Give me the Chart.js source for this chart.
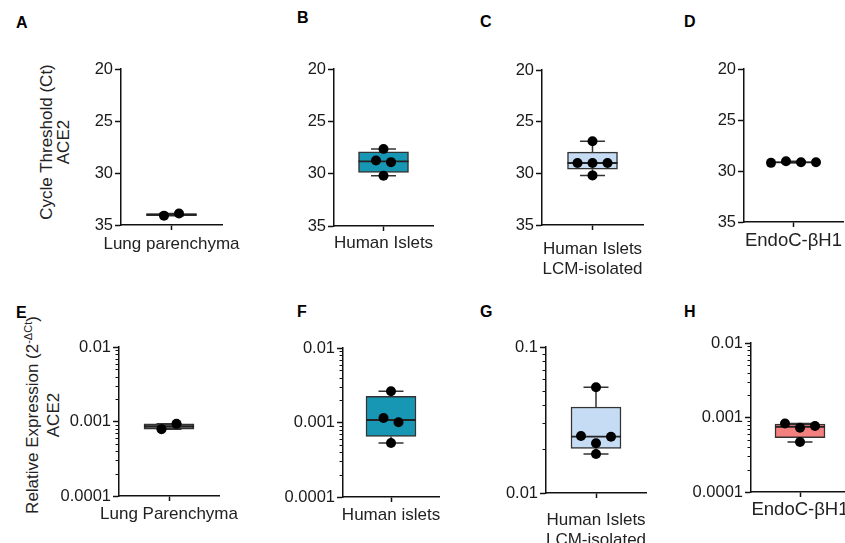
<!DOCTYPE html>
<html><head><meta charset="utf-8">
<script src="https://cdn.jsdelivr.net/npm/chart.js@4.4.1/dist/chart.umd.min.js"></script>
<style>
html,body{margin:0;padding:0;background:#fff;overflow:hidden;width:845px;height:543px;}
body{position:relative;font-family:"Liberation Sans",Arial,sans-serif;color:#1a1a1a;}
.panel{position:absolute;}
.letter{position:absolute;font-weight:bold;font-size:16px;line-height:16px;color:#000;}
.ytitle{position:absolute;font-size:17px;text-align:center;transform:rotate(-90deg);white-space:nowrap;color:#222;}
.ytitle sup{font-size:11px;vertical-align:6px;line-height:0;}
</style></head><body>
<div class="letter" style="left:16px;top:15px">A</div>
<div class="letter" style="left:297px;top:10px">B</div>
<div class="letter" style="left:480px;top:14px">C</div>
<div class="letter" style="left:684px;top:14px">D</div>
<div class="letter" style="left:16px;top:305px">E</div>
<div class="letter" style="left:297px;top:304px">F</div>
<div class="letter" style="left:480px;top:304px">G</div>
<div class="letter" style="left:684px;top:304px">H</div>
<div class="ytitle" style="left:-55px;top:125px;width:220px;height:34px;line-height:17px">Cycle Threshold (Ct)<br>ACE2</div>
<div class="ytitle" style="left:-77px;top:394px;width:240px;height:42px;line-height:21px">Relative Expression (2<sup>-&Delta;Ct</sup>)<br>ACE2</div>
<script>
// ---------- data ----------
const ctTicks = [20, 25, 30, 35];
const logTicksLow = [0.0001, 0.001, 0.01];
const logTicksG = [0.01, 0.1];

const categoriesTop = ['Lung parenchyma', 'Human Islets', ['Human Islets', 'LCM-isolated'], 'EndoC-\u03B2H1'];
const categoriesBottom = ['Lung Parenchyma', 'Human islets', ['Human Islets', 'LCM-isolated'], 'EndoC-\u03B2H1'];

const ctLung = [34.1, 33.9];
const ctIslets = [27.65, 28.75, 28.9, 30.2];
const ctLCM = [26.9, 29.0, 29.0, 29.0, 30.2];
const ctEndoC = [29.2, 29.15, 29.05, 29.15];

const relLung = [0.00079, 0.00093];
const relIslets = [0.00262, 0.00115, 0.00101, 0.00053];
const relLCM = [0.053, 0.0246, 0.0243, 0.0219, 0.0185];
const relEndoC = [0.00083, 0.00077, 0.00073, 0.00047];

// ---------- helpers ----------
function prismQuantile(s, p) {
  const n = s.length, pos = p * (n + 1);
  if (pos <= 1) return s[0];
  if (pos >= n) return s[n - 1];
  const lo = Math.floor(pos), f = pos - lo;
  return s[lo - 1] + f * (s[lo] - s[lo - 1]);
}
function boxStats(vals) {
  const s = [...vals].sort((a, b) => a - b);
  return { min: s[0], q1: prismQuantile(s, 0.25), med: prismQuantile(s, 0.5), q3: prismQuantile(s, 0.75), max: s[s.length - 1] };
}

const FONT = '"Liberation Sans", Arial, sans-serif';
const ROW = 8, SP = 15;

const boxPlugin = {
  id: 'boxExtras',
  afterDatasetsUpdate(chart) {
    const els = chart.getDatasetMeta(1).data;
    const idx = els.map((e, i) => i).sort((a, b) => els[a].y - els[b].y);
    const rows = []; let cur = null;
    idx.forEach(i => {
      if (cur && els[i].y - els[cur[0]].y < ROW) cur.push(i);
      else { cur = [i]; rows.push(cur); }
    });
    rows.forEach(r => {
      r.sort((a, b) => a - b);
      const n = r.length, offs = [];
      for (let k = 0; k < n; k++) offs.push((k - (n - 1) / 2) * SP);
      const order = []; let lo = 0, hi = n - 1;
      while (lo <= hi) { order.push(offs[lo]); if (hi !== lo) order.push(offs[hi]); lo++; hi--; }
      r.forEach((i, k) => { els[i].x += order[k]; });
    });
  },
  afterDatasetDraw(chart, args, opts) {
    if (args.index !== 0) return;
    const st = opts.stats;
    const bar = chart.getDatasetMeta(0).data[0];
    const x = chart.scales.x.getPixelForValue(0);
    const ys = chart.scales.y;
    const bw = bar.width, cw = bw / 2;
    const ctx = chart.ctx;
    ctx.save();
    ctx.strokeStyle = '#333'; ctx.lineWidth = 1.5;
    ctx.beginPath();
    const yq1 = ys.getPixelForValue(st.q1), yq3 = ys.getPixelForValue(st.q3);
    const ymin = ys.getPixelForValue(st.min), ymax = ys.getPixelForValue(st.max);
    const ymed = ys.getPixelForValue(st.med);
    ctx.moveTo(x, yq1); ctx.lineTo(x, ymin);
    ctx.moveTo(x - cw / 2, ymin); ctx.lineTo(x + cw / 2, ymin);
    ctx.moveTo(x, yq3); ctx.lineTo(x, ymax);
    ctx.moveTo(x - cw / 2, ymax); ctx.lineTo(x + cw / 2, ymax);
    ctx.stroke();
    ctx.beginPath();
    ctx.lineWidth = 1.8; ctx.strokeStyle = '#222';
    ctx.moveTo(x - bw / 2, ymed); ctx.lineTo(x + bw / 2, ymed);
    ctx.stroke();
    ctx.restore();
  },
  afterDraw(chart) {
    const ys = chart.scales.y;
    if (ys.type !== 'logarithmic') return;
    const ctx = chart.ctx, left = chart.chartArea.left;
    ctx.save();
    ctx.strokeStyle = '#111'; ctx.lineWidth = 1;
    ctx.beginPath();
    for (let k = Math.floor(Math.log10(ys.min)); k < Math.round(Math.log10(ys.max)); k++) {
      for (let m = 2; m <= 9; m++) {
        const v = m * Math.pow(10, k);
        if (v <= ys.min || v >= ys.max) continue;
        const py = Math.round(ys.getPixelForValue(v)) + 0.5;
        ctx.moveTo(left - 3.5, py); ctx.lineTo(left, py);
      }
    }
    ctx.stroke();
    ctx.restore();
  }
};

const panels = [
  { category: categoriesTop[0], values: ctLung, scale: 'ct', ticks: ctTicks, fill: 'rgba(255,255,255,0)', area: [121, 69, 222, 225], pad: 4, fs: 17 },
  { category: categoriesTop[1], values: ctIslets, scale: 'ct', ticks: ctTicks, fill: '#1797b4', area: [334, 69, 433, 226], pad: 2, fs: 17 },
  { category: categoriesTop[2], values: ctLCM, scale: 'ct', ticks: ctTicks, fill: '#c6dcf5', area: [542, 70, 643, 225], pad: 9, fs: 17 },
  { category: categoriesTop[3], values: ctEndoC, scale: 'ct', ticks: ctTicks, fill: '#a8c3e6', area: [744, 69, 843, 222], pad: 3, fs: 18.5 },
  { category: categoriesBottom[0], values: relLung, scale: 'log', ticks: logTicksLow, fill: 'rgba(255,255,255,0)', area: [119, 347, 219, 496], pad: 3, fs: 17 },
  { category: categoriesBottom[1], values: relIslets, scale: 'log', ticks: logTicksLow, fill: '#1797b4', area: [343, 348, 439, 497], pad: 3, fs: 17 },
  { category: categoriesBottom[2], values: relLCM, scale: 'log', ticks: logTicksG, fill: '#c6dcf5', area: [546, 347, 646, 493], pad: 12, fs: 17 },
  { category: categoriesBottom[3], values: relEndoC, scale: 'log', ticks: logTicksLow, fill: '#f47f7f', area: [751, 343, 849, 492], pad: 2, fs: 18.5 }
];

const YW = 80, XH = 70, PT = 16, PR = 50;

panels.forEach(p => {
  const [cl, ct, cr, cb] = p.area;
  const wrap = document.createElement('div');
  wrap.className = 'panel';
  const w = YW + (cr - cl) + PR, h = PT + (cb - ct) + XH;
  wrap.style.cssText = `left:${cl - YW}px;top:${ct - PT}px;width:${w}px;height:${h}px`;
  const cv = document.createElement('canvas');
  wrap.appendChild(cv);
  document.body.appendChild(wrap);
  const isLog = p.scale === 'log';
  const st = boxStats(p.values);
  new Chart(cv, {
    data: {
      labels: [p.category],
      datasets: [
        { type: 'bar', order: 2, data: [[st.q1, st.q3]], backgroundColor: p.fill, borderColor: '#333', borderWidth: 1.5, borderSkipped: false, barThickness: 50 },
        { type: 'line', order: 1, data: p.values.map(v => ({ x: 0, y: v })), showLine: false, pointRadius: 5, pointBackgroundColor: '#000', pointBorderColor: '#000', pointBorderWidth: 0 }
      ]
    },
    options: {
      responsive: true, maintainAspectRatio: false, animation: false, events: [],
      layout: { padding: { top: PT, right: PR, left: 0, bottom: 0 } },
      plugins: { legend: { display: false }, tooltip: { enabled: false }, boxExtras: { stats: st } },
      scales: {
        x: {
          type: 'category', offset: true,
          grid: { display: true, offset: false, drawOnChartArea: false, drawTicks: true, tickLength: 5, tickWidth: 1.5, tickColor: '#111' },
          border: { display: true, color: '#111', width: 1.5 },
          ticks: { font: { size: p.fs, family: FONT }, color: '#222', padding: p.pad, maxRotation: 0, autoSkip: false },
          afterFit(s) { s.height = XH; s.paddingLeft = 0; s.paddingRight = 0; }
        },
        y: {
          type: isLog ? 'logarithmic' : 'linear',
          reverse: !isLog,
          min: p.ticks[0], max: p.ticks[p.ticks.length - 1],
          afterBuildTicks(s) { s.ticks = p.ticks.map(v => ({ value: v })); },
          ticks: { callback: v => String(v), font: { size: 16.5, family: FONT }, color: '#1a1a1a', padding: 2 },
          grid: { drawOnChartArea: false, drawTicks: true, tickLength: 6, tickWidth: 1.5, tickColor: '#111' },
          border: { display: true, color: '#111', width: 1.5 },
          afterFit(s) { s.width = YW; s.paddingTop = 0; s.paddingBottom = 0; }
        }
      }
    },
    plugins: [boxPlugin]
  });
});
</script>
</body></html>
